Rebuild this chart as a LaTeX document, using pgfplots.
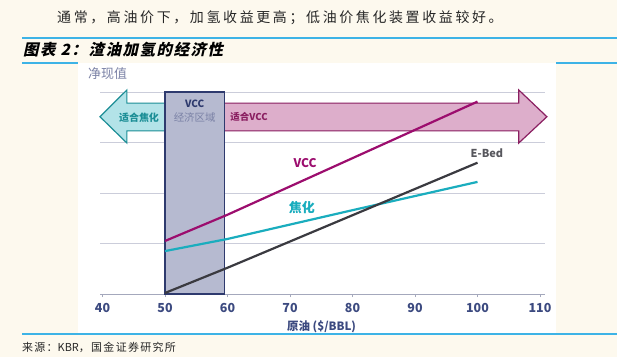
\documentclass[border=0pt]{standalone}
\usepackage{fontspec}
\usepackage{pgfplots}
\pgfplotsset{compat=1.18}
\setmainfont{Noto Sans CJK SC}
\newfontfamily\topfont{Noto Sans CJK SC}[LetterSpace=19]
\newfontfamily\titlefont{Noto Sans CJK SC}[FakeSlant=0.22,LetterSpace=10]
\newfontfamily\srcfont{Noto Sans CJK SC}[LetterSpace=12]
\newfontfamily\plainfont{Noto Sans CJK SC}
\definecolor{cream}{HTML}{FDF9EE}
\definecolor{blueline}{HTML}{3DB3E6}
\definecolor{navy}{HTML}{3C4A80}
\definecolor{gridc}{HTML}{CBCDDA}
\definecolor{axisc}{HTML}{A4A8BC}
\definecolor{vccc}{HTML}{9C0D6E}
\definecolor{cokec}{HTML}{1AADBE}
\definecolor{ebedc}{HTML}{3A3A40}
\definecolor{rectc}{HTML}{B6BAD0}
\definecolor{rectd}{HTML}{2E3A6E}
\definecolor{tealf}{HTML}{B3E3E8}
\definecolor{teald}{HTML}{1C8E96}
\definecolor{pinkf}{HTML}{DDAECB}
\definecolor{pinkd}{HTML}{8A1F61}
\definecolor{npvc}{HTML}{7B82A6}
\begin{document}
\begin{tikzpicture}[x=1bp,y=1bp]
\fill[cream] (0,0) rectangle (617,357);
\fill[white] (78,23) rectangle (556,294);
\draw[blueline, line width=1.6bp] (22,319) -- (617,319);
\draw[blueline, line width=1.6bp] (22,294) -- (78,294);
\draw[blueline, line width=1.6bp] (556,294) -- (617,294);
\draw[blueline, line width=1.6bp] (22,23) -- (617,23);
\node[anchor=west, inner sep=0, text=black!85, font=\topfont\fontsize{14}{14}\selectfont] at (57,339) {通常，高油价下，加氢收益更高；低油价焦化装置收益较好。};
\node[anchor=west, inner sep=0, text=black, font=\titlefont\bfseries\fontsize{15.5}{15.5}\selectfont] at (23,307) {图表 2：渣油加氢的经济性};
\node[anchor=west, inner sep=0, text=black!85, font=\srcfont\fontsize{11}{11}\selectfont] at (22,10) {来源：{\plainfont KBR}，国金证券研究所};
\node[anchor=west, inner sep=0, text=npvc, font=\fontsize{13}{13}\selectfont] at (88,283) {净现值};
\begin{axis}[
  at={(100bp,63bp)}, anchor=south west, scale only axis,
  width=445bp, height=202bp,
  xmin=39.6, xmax=110.8, ymin=0, ymax=4,
  clip=false,
  xtick={40,50,60,70,80,90,100,110},
  ytick={1,2,3,4}, yticklabels={},
  ymajorgrids, grid style={color=gridc, line width=0.9bp},
  axis lines*=left,
  y axis line style={draw=none},
  x axis line style={color=axisc, line width=0.9bp},
  ytick style={draw=none},
  xtick style={color=axisc, line width=0.7bp},
  tick align=outside, major tick length=3bp,
  /pgf/number format/assume math mode=true,
  xticklabel style={font=\bfseries\fontsize{12.5}{12.5}\selectfont, text=navy, yshift=-2.5bp},
  xlabel={原油 (\$/BBL)},
  xlabel style={font=\bfseries\fontsize{11.5}{11.5}\selectfont, text=navy, at={(axis description cs:0.498,-0.163)}, anchor=center},
]
\addplot[draw=teald, fill=tealf, line width=1.2bp] coordinates {(50,3.78) (43.9,3.78) (43.9,4.04) (39.6,3.51) (43.9,2.99) (43.9,3.23) (50,3.23)} -- cycle;
\addplot[draw=pinkd, fill=pinkf, line width=1.2bp] coordinates {(59.5,3.78) (106.6,3.78) (106.6,4.04) (111.1,3.51) (106.6,2.99) (106.6,3.23) (59.5,3.23)} -- cycle;
\addplot[draw=rectd, fill=rectc, line width=1.2bp] coordinates {(50,0) (50,4) (59.5,4) (59.5,0)} -- cycle;
\node[text=rectd, font=\bfseries\fontsize{10}{10}\selectfont] at (axis cs:54.75,3.76) {VCC};
\node[text=npvc, font=\fontsize{10.5}{10.5}\selectfont] at (axis cs:54.75,3.50) {经济区域};
\node[text=teald, font=\bfseries\fontsize{10}{10}\selectfont] at (axis cs:45.84,3.50) {适合焦化};
\node[text=pinkd, font=\bfseries\fontsize{9.5}{9.5}\selectfont] at (axis cs:63.44,3.50) {适合VCC};
\addplot[color=vccc, line width=2.2bp] coordinates {(50,1.05) (60,1.57) (100,3.81)};
\addplot[color=cokec, line width=2.2bp] coordinates {(50,0.85) (60,1.09) (80,1.66) (100,2.22)};
\addplot[color=ebedc, line width=2.2bp] coordinates {(50,0.02) (60,0.52) (100,2.6)};
\node[text=vccc, font=\bfseries\fontsize{12}{12}\selectfont] at (axis cs:72.4,2.59) {VCC};
\node[text=cokec, font=\bfseries\fontsize{13}{13}\selectfont] at (axis cs:71.9,1.72) {焦化};
\node[text=ebedc!85, font=\bfseries\fontsize{11}{11}\selectfont] at (axis cs:101.5,2.79) {E-Bed};
\end{axis}
\pgfresetboundingbox
\useasboundingbox (0,0) rectangle (617,357);
\end{tikzpicture}
\end{document}
